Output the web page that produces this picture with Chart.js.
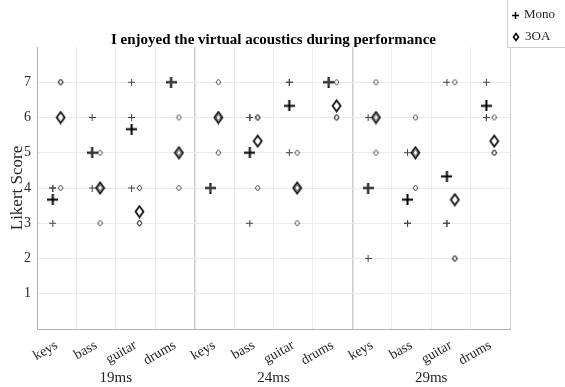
<!DOCTYPE html>
<html>
<head>
<meta charset="utf-8">
<script src="https://cdn.jsdelivr.net/npm/chart.js@4"></script>
<style>
  body { margin: 0; background: #fff; }
  #wrap { position: relative; width: 565px; height: 387px; }
  #legend {
    position: absolute; left: 507px; top: 0; width: 58px; height: 47px;
    border-left: 1px solid #cfcfcf; border-bottom: 1px solid #cfcfcf;
    background: #fff; font-family: 'Liberation Serif', serif; font-size: 13px; color: #222;
  }
  #legend div { position: absolute; left: 4px; height: 16px; line-height: 16px; }
  #legend canvas { vertical-align: middle; margin-right: 5px; }
</style>
</head>
<body>
<div id="wrap">
  <canvas id="chart" width="565" height="387"></canvas>
  <div id="legend">
    <div style="top:6px"><span id="lgMono"></span>Mono</div>
    <div style="top:28px"><span id="lgOA"></span>3OA</div>
  </div>
</div>
<script>
const instruments = ['keys', 'bass', 'guitar', 'drums'];
const delays = ['19ms', '24ms', '29ms'];
const yTicks = [1, 2, 3, 4, 5, 6, 7];

// individual responses per instrument, 19ms | 24ms | 29ms
const monoResponses = [
  [4, 4, 3], [6, 5, 4], [7, 6, 4], [7, 7, 7],
  [4, 4, 4], [6, 6, 3], [7, 7, 5], [7, 7, 7],
  [6, 4, 2], [5, 3, 3], [7, 3, 3], [7, 6, 6]
];
const oaResponses = [
  [7, 7, 4], [5, 4, 3], [4, 3, 3], [6, 5, 4],
  [7, 6, 5], [6, 6, 4], [5, 4, 3], [7, 6, 6],
  [7, 6, 5], [6, 5, 4], [7, 2, 2], [6, 5, 5]
];
// means
const monoMeans = [3.67, 5, 5.67, 7, 4, 5, 6.33, 7, 4, 3.67, 4.33, 6.33];
const oaMeans = [6, 4, 3.33, 5, 6, 5.33, 4, 6.33, 6, 5, 3.67, 5.33];

const categoryLabels = delays.flatMap(() => instruments);
const nCat = categoryLabels.length;
const offset = 0.1;

function makeCross(size, lw, color) {
  const c = document.createElement('canvas');
  c.width = size; c.height = size;
  const g = c.getContext('2d');
  g.strokeStyle = color; g.lineWidth = lw;
  const m = size / 2;
  g.beginPath();
  g.moveTo(0, m); g.lineTo(size, m);
  g.moveTo(m, 0); g.lineTo(m, size);
  g.stroke();
  return c;
}
function makeDiamond(w, h, lw, color) {
  const c = document.createElement('canvas');
  c.width = w + lw * 2; c.height = h + lw * 2;
  const g = c.getContext('2d');
  g.strokeStyle = color; g.lineWidth = lw;
  const cx = c.width / 2, cy = c.height / 2;
  g.beginPath();
  g.moveTo(cx, cy - h / 2); g.lineTo(cx + w / 2, cy);
  g.lineTo(cx, cy + h / 2); g.lineTo(cx - w / 2, cy);
  g.closePath();
  g.stroke();
  return c;
}

const crossSmall = makeCross(7, 1, '#444');
const crossBig = makeCross(11, 2, '#000');
const diaSmall = makeDiamond(5, 6, 1, '#444');
const diaBig = makeDiamond(8, 11, 1.8, '#111');

document.getElementById('lgMono').appendChild(makeCross(7, 1.5, '#000'));
document.getElementById('lgOA').appendChild(makeDiamond(5, 7, 1.5, '#000'));

function pointsFrom(responses, shift) {
  const pts = [];
  responses.forEach((vals, i) => vals.forEach(v => pts.push({ x: i + 0.5 + shift, y: v })));
  return pts;
}
function meansFrom(means, shift) {
  return means.map((v, i) => ({ x: i + 0.5 + shift, y: v }));
}

const serif = "'Liberation Serif', 'Times New Roman', serif";
Chart.defaults.font.family = serif;
Chart.defaults.color = '#262626';

const isDivider = ctx => ctx.tick && ctx.tick.value % 4 === 0 && ctx.tick.value > 0 && ctx.tick.value < nCat;

new Chart(document.getElementById('chart'), {
  type: 'scatter',
  data: {
    datasets: [
      { label: 'Mono', data: pointsFrom(monoResponses, -offset), pointStyle: crossSmall },
      { label: '3OA', data: pointsFrom(oaResponses, offset), pointStyle: diaSmall },
      { label: 'Mono mean', data: meansFrom(monoMeans, -offset), pointStyle: crossBig },
      { label: '3OA mean', data: meansFrom(oaMeans, offset), pointStyle: diaBig }
    ]
  },
  options: {
    responsive: false,
    animation: false,
    layout: { padding: { right: 55, left: 0, top: 0, bottom: 0 } },
    plugins: {
      legend: { display: false },
      tooltip: { enabled: false },
      title: {
        display: true,
        fullSize: false,
        text: 'I enjoyed the virtual acoustics during performance',
        font: { size: 15, weight: 'bold', family: serif },
        color: '#000',
        padding: { top: 31, bottom: -2 }
      }
    },
    scales: {
      x: {
        type: 'linear', position: 'bottom', min: 0, max: nCat,
        afterBuildTicks: s => { s.ticks = Array.from({ length: nCat + 1 }, (_, i) => ({ value: i })); },
        ticks: { display: false },
        grid: {
          drawTicks: false,
          color: ctx => isDivider(ctx) ? '#cccccc' : (ctx.tick && ctx.tick.value === nCat ? '#d0d0d0' : '#ebebeb'),
          lineWidth: ctx => isDivider(ctx) ? 1.5 : 1
        },
        border: { color: '#b0b0b0' },
        afterFit: s => { s.height = 0; }
      },
      xCat: {
        type: 'linear', position: 'bottom', min: 0, max: nCat,
        afterBuildTicks: s => { s.ticks = categoryLabels.map((_, i) => ({ value: i + 0.5 })); },
        ticks: {
          callback: v => categoryLabels[Math.floor(v)],
          minRotation: 30, maxRotation: 30, autoSkip: false,
          font: { size: 14 }, padding: 0
        },
        grid: { display: false },
        border: { display: false },
        afterFit: s => { s.height = 40; }
      },
      xGroup: {
        type: 'linear', position: 'bottom', min: 0, max: nCat,
        afterBuildTicks: s => { s.ticks = delays.map((_, i) => ({ value: i * 4 + 2 })); },
        ticks: {
          callback: v => delays[Math.floor(v / 4)],
          maxRotation: 0, autoSkip: false,
          font: { size: 15 }, padding: -8
        },
        grid: { display: false },
        border: { display: false },
        afterFit: s => { s.height = 18; }
      },
      y: {
        min: 0, max: 8,
        afterBuildTicks: s => { s.ticks = yTicks.map(v => ({ value: v })); },
        ticks: { font: { size: 14 }, padding: 6 },
        grid: { drawTicks: false, color: '#ebebeb' },
        border: { color: '#b0b0b0' },
        title: {
          display: true, text: 'Likert Score',
          font: { size: 17 }, padding: { top: 7, bottom: 0 }
        },
        afterFit: s => { s.width = 37; }
      }
    }
  }
});
</script>
</body>
</html>
